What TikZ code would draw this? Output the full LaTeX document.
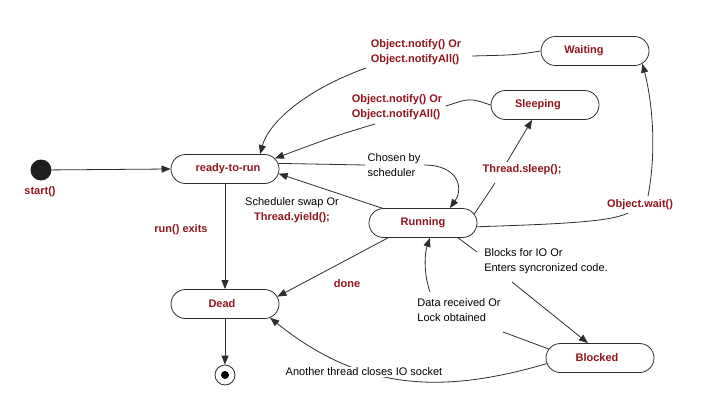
\documentclass[tikz,border=0pt]{standalone}
\usepackage{fontspec}
\setmainfont{Liberation Sans}
\usetikzlibrary{arrows.meta,shapes.misc}
\definecolor{lbl}{RGB}{145,22,30}
\definecolor{ln}{RGB}{45,45,45}
\tikzset{
  state/.style={rounded rectangle, draw=ln, line width=0.8pt, minimum width=108pt, minimum height=29pt,
    inner sep=0pt, font=\fontsize{11}{14}\selectfont\bfseries, text=lbl},
  rlab/.style={font=\fontsize{11}{14.5}\selectfont\bfseries, text=lbl, inner sep=1pt, align=left},
  blab/.style={font=\fontsize{11}{14.5}\selectfont, text=black, inner sep=1pt, align=left},
  conn/.style={draw=ln, line width=0.8pt},
  arr/.style={conn, -{Triangle[length=9pt,width=7pt]}},
}
\begin{document}
\begin{tikzpicture}[x=1pt,y=-1pt]
\useasboundingbox (0,0) rectangle (708,409);
% states
\node[circle, fill=black!88, minimum size=21pt, inner sep=0pt] (start) at (41,170) {};
\node[rlab] (startlbl) at (40,192) {start()};
\node[state] (ready) at (225,169) {\hspace*{6pt}ready-to-run};
\node[state] (waiting) at (595,51) {\hspace*{-22pt}Waiting};
\node[state] (sleeping) at (545,105) {\hspace*{-14pt}Sleeping};
\node[state] (running) at (423,223) {Running};
\node[state] (dead) at (225,304) {\hspace*{-6pt}Dead};
\node[state] (blocked) at (600,358) {\hspace*{-6pt}Blocked};
\node[circle, draw=ln, line width=0.8pt, minimum size=20pt, inner sep=0pt] (end) at (225,375) {};
\node[circle, fill=black, minimum size=8pt, inner sep=0pt] (endin) at (end.center) {};
% labels
\node[rlab] (n1) at (416,52) {Object.notify() Or\\Object.notifyAll()};
\node[rlab] (n2) at (397,107) {Object.notify() Or\\Object.notifyAll()};
\node[blab] (n3) at (394,165) {Chosen by\\scheduler};
\node[rlab] (n4) at (522,170) {Thread.sleep();};
\node[blab, align=center] (n8) at (292,210) {Scheduler swap Or\\{\bfseries\color{lbl}Thread.yield();}};
\node[rlab] (n9) at (181,230) {run() exits};
\node[rlab] (n10) at (347,284) {done};
\node[rlab] (n5) at (640,205) {Object.wait()};
\node[blab] (n6) at (546,261) {Blocks for IO Or\\Enters syncronized code.};
\node[blab] (n7) at (459,310) {Data received Or\\Lock obtained};
% break points next to labels
\coordinate (n1r) at (472,56);
\coordinate (n1l) at (366,68);
\coordinate (n2r) at (446,106);
\coordinate (n2l) at (375,124);
\coordinate (n3l) at (365,165);
\coordinate (n3r) at (424,165);
\coordinate (n4b) at (495,183);
\coordinate (n4t) at (507,162);
\coordinate (n5l) at (628,213);
\coordinate (n5t) at (648,196);
\coordinate (n6a) at (477,252);
\coordinate (n6b) at (512,282);
\coordinate (n7a) at (503,332);
\coordinate (n7b) at (430,292);
% connectors
\draw[arr] (start) -- (ready.west);
\draw[conn] (waiting.west) .. controls (515,55) .. (n1r);
\draw[arr] (n1l) .. controls (300,92) and (268,125) .. (ready.23);
\draw[conn] (sleeping.west) .. controls (470,98) .. (n2r);
\draw[arr] (n2l) .. controls (335,136) .. (ready.12);
\draw[arr] (running.160) -- (ready.-5);
\draw[conn] (ready.6) -- (n3l);
\draw[arr] (n3r) .. controls (458,165) and (464,188) .. (running.29);
\draw[conn] (running.10) -- (n4b);
\draw[arr] (n4t) -- (sleeping.229);
\draw[conn] (running.-4) .. controls (560,224) and (610,222) .. (n5l);
\draw[arr] (n5t) .. controls (657,150) and (652,100) .. (waiting.-15);
\draw[conn] (running.-23) -- (n6a);
\draw[arr] (n6b) -- (blocked.129);
\draw[conn] (blocked.170) -- (n7a);
\draw[arr] (n7b) .. controls (423,272) and (425,252) .. (running.-65);
\draw[arr] (ready.south) -- (dead.north);
\draw[arr] (running.203) -- (dead.8);
\draw[arr] (dead.south) -- (end.north);
\draw[arr] (blocked.186) .. controls (440,395) and (360,390) .. (dead.-17);
\node[blab, fill=white, inner sep=1pt] (n11) at (364,372) {Another thread closes IO socket};
\end{tikzpicture}
\end{document}
